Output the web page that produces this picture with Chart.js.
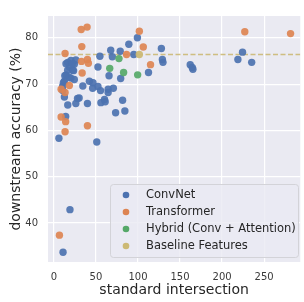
<!DOCTYPE html>
<html>
<head>
<meta charset="utf-8">
<script src="https://cdn.jsdelivr.net/npm/chart.js@4/dist/chart.umd.min.js"></script>
<style>
  body { margin: 0; background: #fff; }
  canvas { display: block; }
</style>
</head>
<body>
<canvas id="myChart" width="304" height="302"></canvas>
<script>
// data
var seriesNames = ['ConvNet', 'Transformer', 'Hybrid (Conv + Attention)', 'Baseline Features'];

var convnetX = [6, 51, 14, 16.5, 12.5, 10.5, 10.5, 12.5, 11.3, 14.4, 20.3, 24.3, 22.3, 16.4, 18.4, 14.4, 16.4, 20.3, 26.1, 24.3,
    21.9, 23.4, 28.1, 26.1, 39.9, 34.4, 42.2, 46.5, 46.1, 52.4, 52.4, 54.7, 55.5, 55.9, 60.2, 64.5, 64.5, 70.7, 65.6, 67.6,
    69.5, 78.9, 79.4, 73.4, 81.7, 84.4, 89.1, 95, 99.3, 112.5, 127.8, 129, 129.7, 162.1, 164.5, 165.3, 218.8, 224.3, 235.2, 19.1,
    10.9, 30, 18, 13, 61];
var convnetY = [58.3, 57.5, 63.0, 65.5, 67.2, 68.6, 69.6, 70.6, 70.3, 72.0, 71.3, 71.0, 73.0, 73.0, 73.7, 74.4, 74.7, 75.1, 75.2, 74.3,
    74.4, 72.9, 66.9, 65.8, 65.8, 69.6, 70.6, 70.3, 69.1, 69.5, 73.7, 76.0, 68.6, 66.0, 66.7, 68.9, 68.2, 69.1, 71.8, 77.3,
    75.9, 77.1, 71.2, 63.8, 66.5, 64.2, 78.6, 76.4, 80.0, 72.5, 77.7, 75.3, 74.7, 74.2, 73.6, 73.2, 75.3, 76.9, 74.7, 42.9,
    33.7, 67.0, 71.5, 71.8, 66.2];

var transformerX = [32.5, 39.5, 33.2, 13.3, 32.8, 39.9, 41, 33.6, 18.4, 8.6, 13.3, 8.6, 14, 13.3, 39.9, 86.4, 101.6, 106.3, 114.9, 227, 281.4, 6.6];
var transformerY = [81.8, 82.3, 78.1, 76.6, 74.9, 75.3, 74.5, 72.4, 69.7, 68.9, 68.2, 62.9, 61.9, 59.7, 61.0, 76.4, 81.4, 78.0, 74.2, 81.3, 80.9, 37.4];

var hybridX = [77.4, 66.4, 82.9, 99.6];
var hybridY = [75.5, 73.4, 72.5, 72.0];

var baselineX = [101.6];
var baselineY = [76.4];
var baselineLevel = 76.4;

var xTicks = [0, 50, 100, 150, 200, 250];
var yTicks = [40, 50, 60, 70, 80];

var colors = ['#4C72B0', '#DD8452', '#55A868', '#CCB974'];
var xMin = -7, xMax = 293, yMin = 31.6, yMax = 84.7;

function pts(xs, ys) {
    return xs.map(function (x, i) { return {x: x, y: ys[i]}; });
}

var legendBox = {
    id: 'legendBox',
    afterDatasetsDraw: function (chart) {
        var c = chart.ctx;
        var x0 = 110, y0 = 184, w = 188, h = 73;
        c.save();
        c.fillStyle = 'rgba(234,234,242,0.8)';
        c.strokeStyle = '#d3d3d8';
        c.lineWidth = 1;
        c.beginPath();
        c.roundRect(x0 + 0.5, y0 + 0.5, w, h, 3);
        c.fill();
        c.stroke();
        c.font = '11.5px "DejaVu Sans"';
        c.textBaseline = 'middle';
        seriesNames.forEach(function (name, i) {
            var yy = 195 + i * 17;
            c.fillStyle = colors[i];
            c.beginPath();
            c.arc(126, yy, 3.3, 0, Math.PI * 2);
            c.fill();
            c.fillStyle = '#262626';
            c.fillText(name, 146, yy);
        });
        c.restore();
    }
};

var bgPlugin = {
    id: 'plotBg',
    beforeDraw: function (chart) {
        var a = chart.chartArea, c = chart.ctx;
        c.save();
        c.fillStyle = '#EAEAF2';
        c.fillRect(a.left, a.top, a.right - a.left, a.bottom - a.top);
        c.restore();
    }
};

var ctx = document.getElementById('myChart').getContext('2d');
var myChart = new Chart(ctx, {
    type: 'scatter',
    data: {
        datasets: [
            {
                type: 'line',
                label: 'baseline',
                data: [{x: xMin, y: baselineLevel}, {x: xMax, y: baselineLevel}],
                borderColor: 'rgba(204,185,116,0.9)',
                borderWidth: 1.5,
                borderDash: [5, 2.5],
                pointRadius: 0,
                fill: false,
                order: 5
            },
            {label: seriesNames[0], data: pts(convnetX, convnetY), backgroundColor: 'rgba(76,114,176,0.92)', order: 4},
            {label: seriesNames[1], data: pts(transformerX, transformerY), backgroundColor: 'rgba(221,132,82,0.92)', order: 3},
            {label: seriesNames[2], data: pts(hybridX, hybridY), backgroundColor: 'rgba(85,168,104,0.92)', order: 2},
            {label: seriesNames[3], data: pts(baselineX, baselineY), backgroundColor: 'rgba(204,185,116,0.95)', order: 1}
        ]
    },
    options: {
        responsive: false,
        animation: false,
        layout: {padding: {top: 3, right: 0, left: 0, bottom: 0}},
        elements: {point: {radius: 3.7, borderWidth: 0, hoverRadius: 3.7}},
        plugins: {legend: {display: false}, tooltip: {enabled: false}},
        scales: {
            x: {
                type: 'linear',
                min: xMin,
                max: xMax,
                afterBuildTicks: function (s) { s.ticks = xTicks.map(function (v) { return {value: v}; }); },
                afterFit: function (s) { s.height = 40; },
                grid: {color: '#ffffff', lineWidth: 1.2, drawTicks: false},
                border: {display: false},
                ticks: {padding: 9, color: '#3a3a3a', font: {family: 'DejaVu Sans', size: 10}, maxRotation: 0},
                title: {display: true, text: 'standard intersection', color: '#262626',
                    font: {family: 'DejaVu Sans', size: 14}, padding: {top: 0, bottom: 3}}
            },
            y: {
                min: yMin,
                max: yMax,
                afterBuildTicks: function (s) { s.ticks = yTicks.map(function (v) { return {value: v}; }); },
                afterFit: function (s) { s.width = 48; },
                grid: {color: '#ffffff', lineWidth: 1.2, drawTicks: false},
                border: {display: false},
                ticks: {padding: 10, color: '#3a3a3a', font: {family: 'DejaVu Sans', size: 10}},
                title: {display: true, text: 'downstream accuracy (%)', color: '#262626',
                    font: {family: 'DejaVu Sans', size: 14}, padding: {top: 8, bottom: 0}}
            }
        }
    },
    plugins: [bgPlugin, legendBox]
});
</script>
</body>
</html>
